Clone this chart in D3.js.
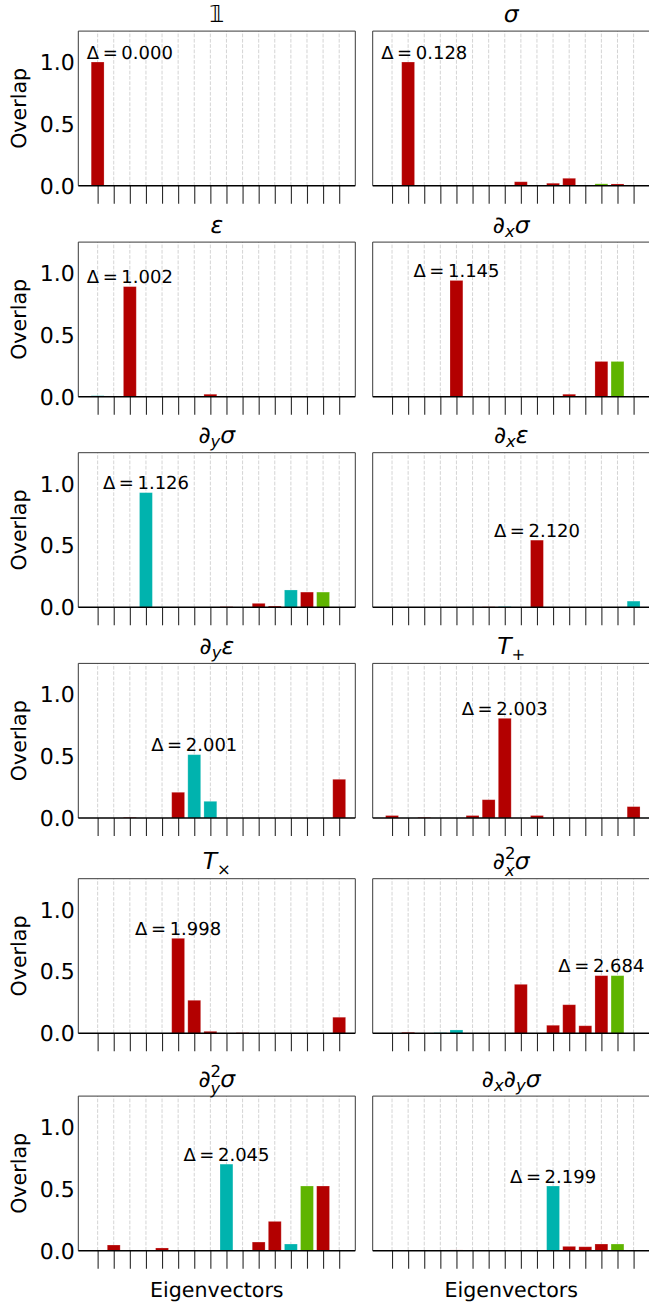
<!DOCTYPE html>
<html>
<head>
<meta charset="utf-8">
<script src="https://cdn.jsdelivr.net/npm/d3@7"></script>
<style>
  body { margin: 0; background: #fff; }
  svg { display: block; font-family: "DejaVu Sans", sans-serif; text-rendering: geometricPrecision; }
</style>
</head>
<body>
<svg id="fig" width="649" height="1307"></svg>
<script>
// ---- data -------------------------------------------------------------
const eigenvectors = d3.range(16);          // eigenvector index on the x axis
const yTicks = [0, 0.5, 1.0];
const yTickLabels = ["0.0", "0.5", "1.0"];

// overlap of each operator with the 16 eigenvectors
const ovIdentity = [1.0, 0, 0, 0, 0, 0, 0, 0.002, 0, 0, 0, 0, 0, 0, 0, 0.002];
const ovSigma    = [0, 1.0, 0, 0, 0, 0, 0, 0, 0.032, 0, 0.02, 0.06, 0.003, 0.015, 0.014, 0];
const ovEps      = [0.008, 0, 0.89, 0, 0, 0, 0, 0.02, 0, 0.003, 0, 0, 0, 0, 0, 0.005];
const ovDxSigma  = [0, 0.004, 0, 0, 0.94, 0, 0, 0, 0.005, 0, 0.004, 0.02, 0, 0.285, 0.285, 0];
const ovDySigma  = [0, 0, 0, 0.927, 0.003, 0, 0, 0, 0.005, 0, 0.032, 0.01, 0.14, 0.123, 0.123, 0];
const ovDxEps    = [0, 0, 0, 0, 0, 0.003, 0.004, 0.006, 0, 0.543, 0, 0, 0, 0, 0, 0.05];
const ovDyEps    = [0, 0, 0.005, 0, 0, 0.208, 0.512, 0.135, 0, 0, 0, 0, 0, 0, 0, 0.313];
const ovTPlus    = [0.02, 0, 0.005, 0, 0, 0.02, 0.148, 0.806, 0, 0.02, 0, 0, 0, 0, 0, 0.092];
const ovTCross   = [0, 0, 0, 0, 0, 0.768, 0.267, 0.016, 0, 0.005, 0, 0, 0, 0, 0, 0.13];
const ovDxxSigma = [0, 0.008, 0, 0.005, 0.027, 0, 0, 0, 0.396, 0, 0.065, 0.231, 0.061, 0.466, 0.466, 0];
const ovDyySigma = [0, 0.046, 0, 0.004, 0.022, 0, 0, 0, 0.70, 0, 0.07, 0.237, 0.054, 0.523, 0.523, 0];
const ovDxySigma = [0, 0, 0, 0.003, 0.006, 0, 0, 0, 0.002, 0, 0.523, 0.035, 0.032, 0.054, 0.054, 0];

// symmetry sector of each eigenvector (r / c / g)
const secIdentity = "rrrrrrrcrrrrrrrc".split("");
const secSigma    = "rrrrrrrrrrrrcgrr".split("");
const secEps      = "crrrrrrrrrrrrrrr".split("");
const secDxSigma  = "rrrrrrrrcrrrrrgr".split("");
const secDySigma  = "rrrccrrrrrrrcrgr".split("");
const secDxEps    = "rrrrrcrcrrrrrrrc".split("");
const secDyEps    = "rrrrrrccrrrrrrrr".split("");
const secTPlus    = "rrrrrrrrrrrrrrrr".split("");
const secTCross   = "rrrrrrrrrrrrrrrr".split("");
const secDxxSigma = "rrrccrrrrrrrrrgr".split("");
const secDyySigma = "rrrrrrrrcrrrcgrr".split("");
const secDxySigma = "rrrrrrrrrrcrrrgr".split("");

const deltas = ["0.000", "0.128", "1.002", "1.145", "1.126", "2.120",
                "2.001", "2.003", "1.998", "2.684", "2.045", "2.199"];

// titles as [text, style] runs: n = upright, i = italic, sub/sup = scripts
const titles = [
  [["𝟙", "n"]],
  [["σ", "i"]],
  [["ε", "i"]],
  [["∂", "n"], ["x", "sub"], ["σ", "i"]],
  [["∂", "n"], ["y", "sub"], ["σ", "i"]],
  [["∂", "n"], ["x", "sub"], ["ε", "i"]],
  [["∂", "n"], ["y", "sub"], ["ε", "i"]],
  [["T", "i"], ["+", "subn"]],
  [["T", "i"], ["×", "subn"]],
  [["∂", "n"], ["2", "sup", "x"], ["σ", "i"]],
  [["∂", "n"], ["2", "sup", "y"], ["σ", "i"]],
  [["∂", "n"], ["x", "sub"], ["∂", "n"], ["y", "sub"], ["σ", "i"]]
];

const overlaps = [ovIdentity, ovSigma, ovEps, ovDxSigma, ovDySigma, ovDxEps,
                  ovDyEps, ovTPlus, ovTCross, ovDxxSigma, ovDyySigma, ovDxySigma];
const sectors  = [secIdentity, secSigma, secEps, secDxSigma, secDySigma, secDxEps,
                  secDyEps, secTPlus, secTCross, secDxxSigma, secDyySigma, secDxySigma];

const sectorColor = { r: "#b30000", c: "#00b3ae", g: "#5fb400" };

// ---- layout -----------------------------------------------------------
const colLeft = [78.3, 372.7];
const panelW = 277;
const rowBottom = [185.7, 396.7, 607.3, 818, 1033.3, 1250.7];
const panelH = 154.6;

const svg = d3.select("#fig");

overlaps.forEach((vals, p) => {
  const row = Math.floor(p / 2), col = p % 2;
  const x0 = colLeft[col], x1 = x0 + panelW;
  const yb = rowBottom[row], yt = yb - panelH;

  const x = d3.scaleLinear().domain([-1.2, 16]).range([x0, x1]);
  const y = d3.scaleLinear().domain([0, 1.25]).range([yb, yt]);
  const bw = x(0.8) - x(0);

  const g = svg.append("g");

  // dashed guide lines at each eigenvector
  g.selectAll("line.grid").data(eigenvectors).join("line")
    .attr("class", "grid")
    .attr("x1", d => x(d)).attr("x2", d => x(d))
    .attr("y1", yb).attr("y2", yt)
    .attr("stroke", "#cfcfcf").attr("stroke-width", 0.9)
    .attr("stroke-dasharray", "3.7,1.6");

  // bars
  g.selectAll("rect.bar").data(vals).join("rect")
    .attr("class", "bar")
    .attr("x", (d, i) => x(i) - bw / 2)
    .attr("width", bw)
    .attr("y", d => y(d))
    .attr("height", d => yb - y(d))
    .attr("fill", (d, i) => sectorColor[sectors[p][i]])
    .attr("stroke", "rgba(255,255,255,0.28)")
    .attr("stroke-width", 0.8);

  // frame
  g.append("path")
    .attr("d", `M${x0},${yb}V${yt}H${x1}V${yb}`)
    .attr("fill", "none").attr("stroke", "#3a3a3a").attr("stroke-width", 1);

  // x ticks (no labels)
  const xAxis = d3.axisBottom(x).tickValues(eigenvectors).tickSize(18).tickFormat("");
  const ax = g.append("g").attr("transform", `translate(0,${yb})`).call(xAxis);
  ax.select(".domain").remove();
  ax.selectAll(".tick line").attr("stroke", "#2a2a2a").attr("stroke-width", 1.1);

  // zero line
  g.append("line")
    .attr("x1", x0).attr("x2", x1).attr("y1", yb).attr("y2", yb)
    .attr("stroke", "#000").attr("stroke-width", 1.6);

  // y axis labels on the left column
  if (col === 0) {
    g.selectAll("text.ytick").data(yTicks).join("text")
      .attr("class", "ytick")
      .attr("x", x0 - 3.5).attr("y", d => y(d))
      .attr("dy", "0.36em")
      .attr("text-anchor", "end")
      .attr("font-size", 22)
      .attr("fill", "#000")
      .text((d, i) => yTickLabels[i]);
    g.append("text")
      .attr("transform", `translate(${x0 - 60},${(yb + yt) / 2}) rotate(-90)`)
      .attr("text-anchor", "middle")
      .attr("dy", "0.36em")
      .attr("font-size", 20.6)
      .text("Overlap");
  }

  // title
  const fs = 23.5;
  const t = g.append("text")
    .attr("x", (x0 + x1) / 2).attr("y", yt - 9.5)
    .attr("text-anchor", "middle").attr("font-size", fs);
  let shift = 0;
  titles[p].forEach(([txt, style, extra]) => {
    if (style === "n" || style === "i") {
      t.append("tspan").attr("dy", -shift).attr("font-style", style === "i" ? "italic" : "normal")
        .attr("font-size", fs).text(txt);
      shift = 0;
    } else if (style === "sub" || style === "subn") {
      const d = style === "sub" ? 4 : 6;
      t.append("tspan").attr("dy", d - shift).attr("font-size", fs * 0.7)
        .attr("font-style", style === "sub" ? "italic" : "normal").text(txt);
      shift = d;
    } else if (style === "sup") {
      const up = -10, down = 7;
      t.append("tspan").attr("dy", up - shift).attr("font-size", fs * 0.7).text(txt);
      t.append("tspan").attr("dy", down - up).attr("dx", -fs * 0.7 * 0.636)
        .attr("font-size", fs * 0.7).attr("font-style", "italic").text(extra);
      shift = down;
    }
  });

  // spectral gap label above the dominant bar
  const imax = d3.maxIndex(vals);
  const cx = Math.min(Math.max(imax, 2), 13);
  g.append("text")
    .attr("x", x(cx)).attr("y", y(vals[imax]) - 3.5)
    .attr("text-anchor", "middle").attr("font-size", 18)
    .text(`Δ\u2009=\u2009${deltas[p]}`);

  // x axis label under the bottom row
  if (row === 5) {
    g.append("text")
      .attr("x", (x0 + x1) / 2).attr("y", yb + 46)
      .attr("text-anchor", "middle").attr("font-size", 20.6)
      .text("Eigenvectors");
  }
});
</script>
</body>
</html>
